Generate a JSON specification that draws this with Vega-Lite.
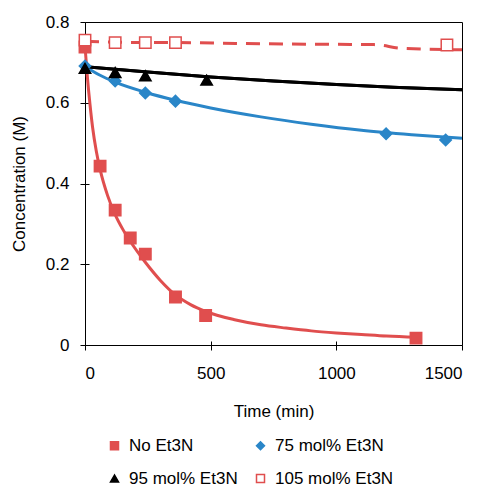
{
  "$schema": "https://vega.github.io/schema/vega-lite/v6.json",
  "width": 377,
  "height": 323,
  "autosize": "none",
  "padding": {"left": 85, "top": 22, "right": 21, "bottom": 141},
  "background": "white",
  "config": {
    "font": "Liberation Sans",
    "view": {"stroke": "black", "strokeWidth": 1},
    "axis": {"grid": false, "domainColor": "black", "tickColor": "black", "labelColor": "black", "titleColor": "black", "labelFontSize": 17, "titleFontSize": 17, "titleFontWeight": "normal", "labelFont": "Liberation Sans", "titleFont": "Liberation Sans"},
    "legend": {"labelFontSize": 17, "labelFont": "Liberation Sans", "labelColor": "black"}
  },
  "datasets": {
    "points": [
      {"series": "No Et3N", "t": 0, "c": 0.738},
      {"series": "No Et3N", "t": 60, "c": 0.443},
      {"series": "No Et3N", "t": 120, "c": 0.334},
      {"series": "No Et3N", "t": 180, "c": 0.265},
      {"series": "No Et3N", "t": 240, "c": 0.225},
      {"series": "No Et3N", "t": 360, "c": 0.119},
      {"series": "No Et3N", "t": 480, "c": 0.073},
      {"series": "No Et3N", "t": 1317, "c": 0.017},
      {"series": "75 mol% Et3N", "t": 0, "c": 0.691},
      {"series": "75 mol% Et3N", "t": 120, "c": 0.654},
      {"series": "75 mol% Et3N", "t": 240, "c": 0.624},
      {"series": "75 mol% Et3N", "t": 360, "c": 0.604},
      {"series": "75 mol% Et3N", "t": 1198, "c": 0.523},
      {"series": "75 mol% Et3N", "t": 1435, "c": 0.508},
      {"series": "95 mol% Et3N", "t": 0, "c": 0.685},
      {"series": "95 mol% Et3N", "t": 120, "c": 0.675},
      {"series": "95 mol% Et3N", "t": 240, "c": 0.667},
      {"series": "95 mol% Et3N", "t": 484, "c": 0.656},
      {"series": "105 mol% Et3N", "t": 0, "c": 0.755},
      {"series": "105 mol% Et3N", "t": 120, "c": 0.749},
      {"series": "105 mol% Et3N", "t": 240, "c": 0.749},
      {"series": "105 mol% Et3N", "t": 360, "c": 0.749},
      {"series": "105 mol% Et3N", "t": 1440, "c": 0.743}
    ],
    "curves": [
      {"series": "No Et3N", "t": 0, "c": 0.74},
      {"series": "No Et3N", "t": 10, "c": 0.66},
      {"series": "No Et3N", "t": 20, "c": 0.595},
      {"series": "No Et3N", "t": 30, "c": 0.54},
      {"series": "No Et3N", "t": 45, "c": 0.48},
      {"series": "No Et3N", "t": 60, "c": 0.435},
      {"series": "No Et3N", "t": 90, "c": 0.37},
      {"series": "No Et3N", "t": 120, "c": 0.323},
      {"series": "No Et3N", "t": 150, "c": 0.287},
      {"series": "No Et3N", "t": 180, "c": 0.257},
      {"series": "No Et3N", "t": 240, "c": 0.205},
      {"series": "No Et3N", "t": 300, "c": 0.16},
      {"series": "No Et3N", "t": 360, "c": 0.124},
      {"series": "No Et3N", "t": 420, "c": 0.1},
      {"series": "No Et3N", "t": 480, "c": 0.083},
      {"series": "No Et3N", "t": 600, "c": 0.062},
      {"series": "No Et3N", "t": 700, "c": 0.05},
      {"series": "No Et3N", "t": 800, "c": 0.042},
      {"series": "No Et3N", "t": 900, "c": 0.035},
      {"series": "No Et3N", "t": 1000, "c": 0.03},
      {"series": "No Et3N", "t": 1100, "c": 0.026},
      {"series": "No Et3N", "t": 1200, "c": 0.022},
      {"series": "No Et3N", "t": 1320, "c": 0.019},
      {"series": "75 mol% Et3N", "t": 0, "c": 0.69},
      {"series": "75 mol% Et3N", "t": 60, "c": 0.668},
      {"series": "75 mol% Et3N", "t": 120, "c": 0.651},
      {"series": "75 mol% Et3N", "t": 240, "c": 0.626},
      {"series": "75 mol% Et3N", "t": 360, "c": 0.606},
      {"series": "75 mol% Et3N", "t": 500, "c": 0.587},
      {"series": "75 mol% Et3N", "t": 700, "c": 0.565},
      {"series": "75 mol% Et3N", "t": 900, "c": 0.547},
      {"series": "75 mol% Et3N", "t": 1100, "c": 0.532},
      {"series": "75 mol% Et3N", "t": 1300, "c": 0.521},
      {"series": "75 mol% Et3N", "t": 1500, "c": 0.512},
      {"series": "95 mol% Et3N", "t": 0, "c": 0.689},
      {"series": "95 mol% Et3N", "t": 250, "c": 0.676},
      {"series": "95 mol% Et3N", "t": 500, "c": 0.664},
      {"series": "95 mol% Et3N", "t": 750, "c": 0.654},
      {"series": "95 mol% Et3N", "t": 1000, "c": 0.645},
      {"series": "95 mol% Et3N", "t": 1250, "c": 0.638},
      {"series": "95 mol% Et3N", "t": 1500, "c": 0.632},
      {"series": "105 mol% Et3N", "t": 0, "c": 0.752},
      {"series": "105 mol% Et3N", "t": 120, "c": 0.75},
      {"series": "105 mol% Et3N", "t": 240, "c": 0.749},
      {"series": "105 mol% Et3N", "t": 360, "c": 0.749},
      {"series": "105 mol% Et3N", "t": 600, "c": 0.747},
      {"series": "105 mol% Et3N", "t": 900, "c": 0.745},
      {"series": "105 mol% Et3N", "t": 1150, "c": 0.744},
      {"series": "105 mol% Et3N", "t": 1260, "c": 0.735},
      {"series": "105 mol% Et3N", "t": 1500, "c": 0.731}
    ]
  },
  "layer": [
    {
      "data": {"name": "curves"},
      "transform": [{"filter": "datum.series === '95 mol% Et3N'"}],
      "mark": {"type": "line", "strokeWidth": 3, "interpolate": "monotone", "color": "#000000"},
      "encoding": {
        "x": {"field": "t", "type": "quantitative", "scale": {"domain": [0, 1500], "nice": false}, "axis": {"orient": "bottom", "values": [0, 500, 1000, 1500], "labels": false, "title": null, "tickSize": -4, "domain": false}},
        "y": {"field": "c", "type": "quantitative", "scale": {"domain": [0, 0.8], "nice": false}, "axis": {"orient": "left", "values": [0, 0.2, 0.4, 0.6, 0.8], "labels": false, "title": null, "tickSize": -4, "domain": false}}
      }
    },
    {
      "encoding": {
        "x": {"field": "t", "type": "quantitative", "scale": {"domain": [0, 1500], "nice": false}, "axis": {"orient": "bottom", "values": [0, 500, 1000, 1500], "format": "d", "title": "Time (min)", "tickSize": 5, "labelPadding": 15, "titlePadding": 22, "domain": false}},
        "y": {"field": "c", "type": "quantitative", "scale": {"domain": [0, 0.8], "nice": false}, "axis": {"orient": "left", "values": [0, 0.2, 0.4, 0.6, 0.8], "format": "~g", "title": "Concentration (M)", "tickSize": 5, "labelPadding": 11, "titlePadding": 17, "domain": false}}
      },
      "layer": [
        {
          "data": {"name": "curves"},
          "transform": [{"filter": "datum.series === 'No Et3N'"}],
          "mark": {"type": "line", "strokeWidth": 3, "interpolate": "monotone", "color": "#E04E4E"}
        },
        {
          "data": {"name": "curves"},
          "transform": [{"filter": "datum.series === '75 mol% Et3N'"}],
          "mark": {"type": "line", "strokeWidth": 3, "interpolate": "monotone", "color": "#2A86C8"}
        },
        {
          "data": {"name": "curves"},
          "transform": [{"filter": "datum.series === '95 mol% Et3N'"}],
          "mark": {"type": "line", "strokeWidth": 3, "interpolate": "monotone", "color": "#000000"}
        },
        {
          "data": {"name": "curves"},
          "transform": [{"filter": "datum.series === '105 mol% Et3N'"}],
          "mark": {"type": "line", "strokeWidth": 3, "interpolate": "monotone", "color": "#E04E4E", "strokeDash": [14, 9]}
        },
        {
          "data": {"name": "points"},
          "mark": {"type": "point", "filled": false, "strokeWidth": 1.5, "opacity": 1, "size": 130},
          "encoding": {
            "shape": {"field": "series", "type": "nominal", "scale": {"domain": ["No Et3N", "75 mol% Et3N", "95 mol% Et3N", "105 mol% Et3N"], "range": ["square", "diamond", "triangle-up", "square"]}, "legend": {"title": null, "orient": "none", "direction": "horizontal", "legendX": 21, "legendY": 415, "columns": 2, "columnPadding": 14, "rowPadding": 15, "symbolSize": 64, "padding": 0, "labelOffset": 6}},
            "fill": {"field": "series", "type": "nominal", "scale": {"domain": ["No Et3N", "75 mol% Et3N", "95 mol% Et3N", "105 mol% Et3N"], "range": ["#E04E4E", "#2A86C8", "#000000", "#FFFFFF"]}, "legend": {"title": null, "orient": "none", "direction": "horizontal", "legendX": 21, "legendY": 415, "columns": 2, "columnPadding": 14, "rowPadding": 15, "symbolSize": 64, "padding": 0, "labelOffset": 6}},
            "stroke": {"field": "series", "type": "nominal", "scale": {"domain": ["No Et3N", "75 mol% Et3N", "95 mol% Et3N", "105 mol% Et3N"], "range": ["#E04E4E", "#2A86C8", "#000000", "#E04E4E"]}, "legend": {"title": null, "orient": "none", "direction": "horizontal", "legendX": 21, "legendY": 415, "columns": 2, "columnPadding": 14, "rowPadding": 15, "symbolSize": 64, "padding": 0, "labelOffset": 6}}
          }
        }
      ]
    }
  ],
  "resolve": {"axis": {"x": "independent", "y": "independent"}}
}
